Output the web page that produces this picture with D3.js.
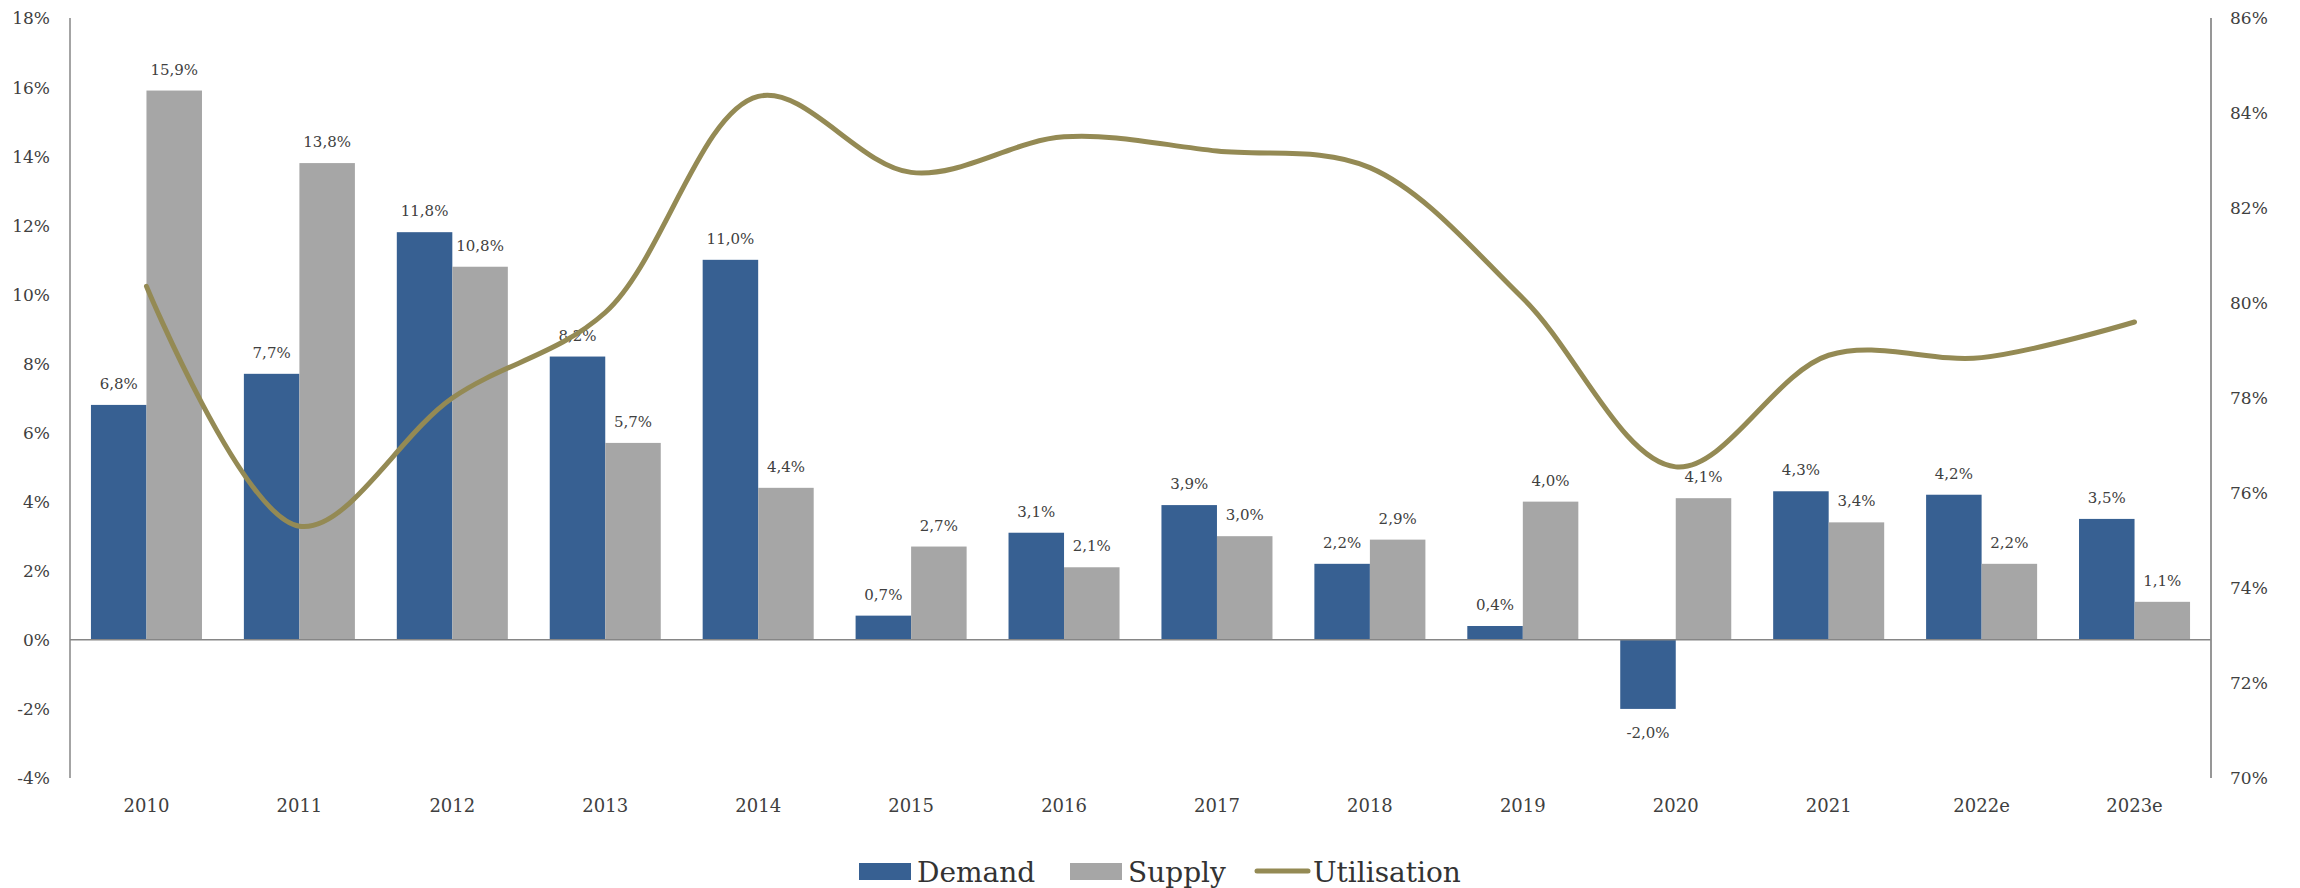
<!DOCTYPE html>
<html><head><meta charset="utf-8">
<script src="https://cdn.jsdelivr.net/npm/d3@7"></script>
<style>body{margin:0;background:#fff}svg{display:block}</style>
</head><body>
<svg id="c" width="2300" height="888"></svg>
<script>
const categories = ["2010","2011","2012","2013","2014","2015","2016","2017","2018","2019","2020","2021","2022e","2023e"];
const demand = [6.8,7.7,11.8,8.2,11.0,0.7,3.1,3.9,2.2,0.4,-2.0,4.3,4.2,3.5];
const supply = [15.9,13.8,10.8,5.7,4.4,2.7,2.1,3.0,2.9,4.0,4.1,3.4,2.2,1.1];
const utilisation = [80.35,75.3,78.0,79.8,84.35,82.75,83.5,83.2,82.85,80.1,76.55,78.9,78.85,79.6];
const leftTicks = [-4,-2,0,2,4,6,8,10,12,14,16,18];
const rightTicks = [70,72,74,76,78,80,82,84,86];
const seriesNames = ["Demand","Supply","Utilisation"];

const colors = {Demand:"#376092", Supply:"#a6a6a6", Utilisation:"#948a54"};
const font = "'DejaVu Serif', Georgia, serif";
const svg = d3.select("#c");
const L = 70, R = 2211, T = 18, B = 778;

const x = d3.scaleBand().domain(categories).range([L, R]).paddingInner(0.274).paddingOuter(0.137);
const xs = d3.scaleBand().domain(["Demand","Supply"]).range([0, x.bandwidth()]);
const y = d3.scaleLinear().domain([-4, 18]).range([B, T]);
const y2 = d3.scaleLinear().domain([70, 86]).range([B, T]);
const fmt = v => v.toFixed(1).replace(".", ",") + "%";

// bars
const data = categories.map((c,i)=>({c, Demand: demand[i], Supply: supply[i]}));
const g = svg.append("g");
["Demand","Supply"].forEach(s=>{
  g.selectAll("rect."+s).data(data).join("rect")
    .attr("x", d=>x(d.c)+xs(s))
    .attr("width", xs.bandwidth())
    .attr("y", d=>y(Math.max(0,d[s])))
    .attr("height", d=>Math.abs(y(d[s])-y(0)))
    .attr("fill", colors[s]);
  g.selectAll("text."+s).data(data).join("text")
    .attr("x", d=>x(d.c)+xs(s)+xs.bandwidth()/2)
    .attr("y", d=> d[s]>=0 ? y(d[s])-16 : y(d[s])+29)
    .attr("text-anchor","middle")
    .attr("font-family", font).attr("font-size", 15).attr("fill","#404040")
    .text(d=>fmt(d[s]));
});

// zero line & axes
svg.append("line").attr("x1",L).attr("x2",R).attr("y1",y(0)).attr("y2",y(0)).attr("stroke","#868686").attr("stroke-width",1.5);
svg.append("line").attr("x1",L).attr("x2",L).attr("y1",T).attr("y2",B).attr("stroke","#868686").attr("stroke-width",1.5);
svg.append("line").attr("x1",R).attr("x2",R).attr("y1",T).attr("y2",B).attr("stroke","#8c8c8c").attr("stroke-width",1.8);

const ax = svg.append("g").attr("transform",`translate(${L-20},0)`)
  .call(d3.axisLeft(y).tickValues(leftTicks).tickSize(0).tickPadding(0).tickFormat(d=>d+"%"));
ax.select(".domain").remove();
ax.selectAll("text").attr("font-family",font).attr("font-size",17).attr("fill","#404040").attr("dy","0.35em");

const ax2 = svg.append("g").attr("transform",`translate(${R+19},0)`)
  .call(d3.axisRight(y2).tickValues(rightTicks).tickSize(0).tickPadding(0).tickFormat(d=>d+"%"));
ax2.select(".domain").remove();
ax2.selectAll("text").attr("font-family",font).attr("font-size",17).attr("fill","#404040").attr("dy","0.35em");

const axb = svg.append("g").attr("transform",`translate(0,${B+21})`)
  .call(d3.axisBottom(x).tickSize(0).tickPadding(0));
axb.select(".domain").remove();
axb.selectAll("text").attr("font-family",font).attr("font-size",18).attr("fill","#404040").attr("dy","0.71em");

// line
const line = d3.line().x((d,i)=>x(categories[i])+x.bandwidth()/2).y(d=>y2(d)).curve(d3.curveCatmullRom.alpha(0.5));
svg.append("path").datum(utilisation).attr("d",line).attr("fill","none")
  .attr("stroke",colors.Utilisation).attr("stroke-width",5).attr("stroke-linecap","round");

// legend
const leg = [
  {name:"Demand", x:859, type:"rect"},
  {name:"Supply", x:1070, type:"rect"},
  {name:"Utilisation", x:1255, type:"line"}
];
const lg = svg.append("g");
leg.forEach(l=>{
  if(l.type==="rect"){
    lg.append("rect").attr("x",l.x).attr("y",863).attr("width",52).attr("height",17).attr("fill",colors[l.name]);
  } else {
    lg.append("line").attr("x1",l.x+2).attr("x2",l.x+53).attr("y1",871).attr("y2",871)
      .attr("stroke",colors[l.name]).attr("stroke-width",5).attr("stroke-linecap","round");
  }
  lg.append("text").attr("x",l.x+58).attr("y",882).attr("font-family",font).attr("font-size",28)
    .attr("fill","#333").text(l.name);
});
</script>
</body></html>
